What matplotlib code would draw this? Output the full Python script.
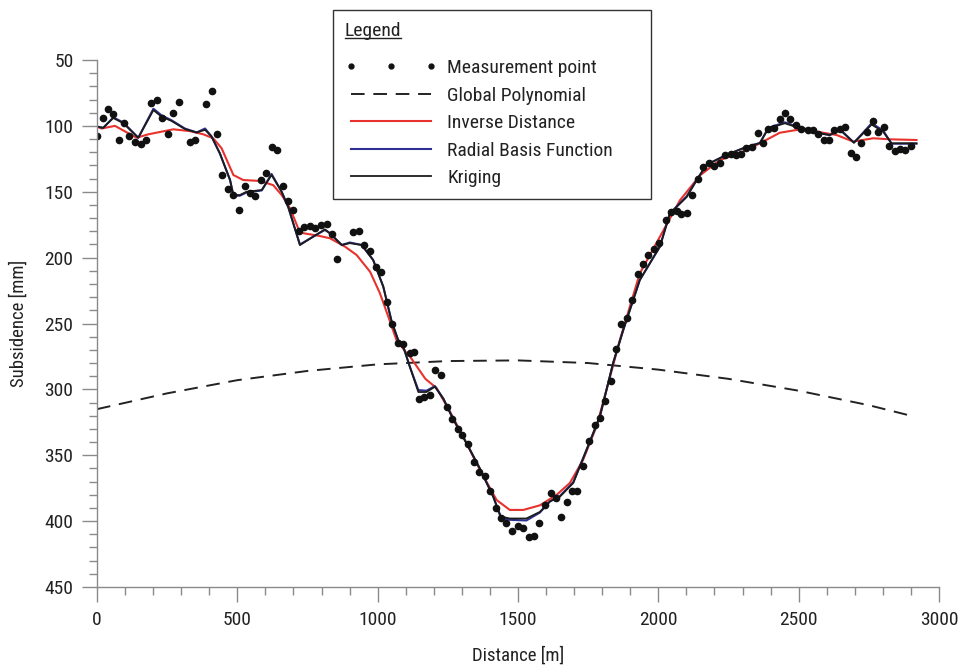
import matplotlib
matplotlib.use('Agg')
import matplotlib.pyplot as plt
from matplotlib.lines import Line2D
from matplotlib import font_manager
from matplotlib.ticker import MultipleLocator

# pick a narrow sans if present
names = {f.name for f in font_manager.fontManager.ttflist}
fam = 'DejaVu Sans'
for n in ['Liberation Sans Narrow', 'Roboto Condensed', 'Open Sans Condensed', 'Liberation Sans']:
    if n in names:
        fam = n
        break
plt.rcParams['font.family'] = [fam, 'DejaVu Sans']

# measurement points
pt_x = [0, 20, 38, 58, 78, 96, 115, 135, 156, 175, 192, 213, 233, 252, 272, 292, 331, 349,
        387, 409, 428, 446, 467, 486, 506, 526, 545, 564, 584, 602, 622, 642, 661, 680, 699,
        720, 738, 759, 777, 797, 818, 836, 856, 913, 933, 952, 973, 993, 1012, 1032, 1051,
        1074, 1091, 1115, 1129, 1148, 1166, 1186, 1205, 1225, 1246, 1265, 1285, 1302, 1322,
        1343, 1362, 1382, 1401, 1420, 1439, 1459, 1478, 1499, 1519, 1538, 1557, 1576, 1596,
        1616, 1635, 1653, 1673, 1692, 1711, 1731, 1753, 1773, 1792, 1811, 1830, 1849, 1867,
        1887, 1905, 1926, 1944, 1964, 1985, 2003, 2026, 2045, 2065, 2081, 2101, 2121, 2140,
        2160, 2179, 2199, 2219, 2237, 2258, 2276, 2296, 2314, 2334, 2355, 2374, 2392, 2413,
        2433, 2452, 2471, 2491, 2510, 2532, 2551, 2570, 2589, 2607, 2626, 2647, 2666, 2685,
        2704, 2724, 2743, 2764, 2782, 2803, 2823, 2842, 2861, 2880, 2900]
pt_y = [108, 94, 87, 91, 111, 98, 108, 112, 114, 111, 83, 80, 94, 106, 90.5, 82, 112.5, 111,
        83.5, 73.5, 106.5, 137, 148, 152.5, 163.5, 145.5, 151, 153.5, 141, 135.5, 116, 118,
        146, 157, 163.5, 180, 177, 176, 177.5, 175.5, 174.5, 182, 201, 180.5, 179.5, 190.5,
        195, 207, 211, 233.5, 250.5, 264.5, 265.5, 272.5, 272, 307, 306, 304, 285, 289, 313,
        322.5, 330, 334.5, 341.5, 355, 362.5, 366, 377.5, 390, 397.5, 401.5, 407.5, 403.5,
        405.5, 412, 411, 401.5, 388, 378.5, 382.5, 396.5, 385.5, 377, 377, 358.5, 339, 327,
        321.5, 309, 294, 269.5, 250, 245.5, 232, 212.5, 205, 198, 193.5, 189, 171.5, 165.5,
        164.5, 167, 166.5, 152.5, 140.5, 131.5, 128, 130.5, 128, 122, 121, 122, 121, 116.5,
        116, 105.5, 113, 102, 101.5, 94.5, 90.5, 94.5, 99.5, 102.5, 103, 103, 106.5, 111, 111,
        103, 102, 100.5, 120.5, 123.5, 113, 105, 96.5, 105, 101, 115, 119, 117.5, 118, 115.5]

# global polynomial
gp_x = [0, 250, 500, 750, 1000, 1250, 1500, 1750, 2000, 2250, 2500, 2750, 2900]
gp_y = [315, 303, 293, 286, 281, 278.5, 278, 280, 285, 292, 301, 312, 320]

# inverse distance
idw_x = [0, 16, 64, 141, 183, 272, 331, 379, 414, 444, 486, 521, 581, 628, 658, 688, 723,
         794, 830, 884, 925, 973, 1008, 1038, 1067, 1103, 1115, 1170, 1210, 1258, 1305,
         1364, 1424, 1471, 1519, 1578, 1638, 1685, 1732, 1780, 1828, 1863, 1934, 2006, 2077,
         2149, 2219, 2314, 2362, 2433, 2493, 2565, 2635, 2694, 2766, 2825, 2920]
idw_y = [100.6, 102, 100, 109, 106.4, 102.6, 104, 106.4, 109.4, 117, 137.3, 141.1, 141.8,
         145, 152.5, 162.6, 181, 183.6, 185.3, 191.7, 198, 210.7, 227, 244.8, 262.5, 272.5,
         275, 292, 299, 317, 336, 361, 384, 391.5, 391.5, 388, 380, 371, 353.5, 328, 290.5,
         262.5, 212, 184, 156.5, 137.5, 126, 118.5, 113.2, 105.2, 103.1, 104.4, 106.9, 111.9,
         109.4, 110.2, 110.7]

# kriging
kr_x = [0, 22, 58, 94, 147, 201, 230, 266, 313, 355, 385, 408, 438, 474, 486, 509, 533,
        587, 622, 658, 682, 723, 771, 812, 830, 872, 901, 943, 984, 1020, 1050, 1073, 1092,
        1115, 1145, 1174, 1204, 1234, 1270, 1317, 1364, 1412, 1439, 1471, 1530, 1578, 1614,
        1649, 1697, 1744, 1792, 1839, 1875, 1934, 2006, 2041, 2101, 2137, 2172, 2243, 2314,
        2362, 2392, 2451, 2493, 2540, 2576, 2611, 2647, 2697, 2724, 2760, 2801, 2831, 2920]
kr_y = [100.5, 101.5, 94, 98, 109, 88, 93, 96.3, 102.4, 105, 103, 108, 121, 141, 152.5,
        152.5, 150, 148.7, 137.3, 150, 162, 190.5, 184, 178.5, 181.5, 190.4, 189, 190.4,
        201.8, 222, 248.6, 262.5, 268, 283, 302, 302, 298, 307, 323, 341, 360, 381.5, 396.5,
        398, 398, 393, 385, 381.5, 371, 346, 320.5, 280, 255, 217, 191.5, 166.5, 154, 141,
        129.5, 122, 116, 113, 102, 98, 101, 103, 105.6, 107, 103, 112.7, 107, 99, 104.4,
        113.2, 113.2]

# radial basis function
rbf_x = kr_x
rbf_y = [100.5, 101.5, 93.5, 97.5, 109, 87, 92, 95.8, 102, 105, 102, 108, 121, 141, 153,
         153, 150.5, 149, 136.5, 150, 162, 190, 184, 179, 181.5, 190.4, 188.5, 190.4, 201.8,
         222, 248.6, 262.5, 268, 283, 300.5, 301, 297.5, 307, 323, 341, 360, 381.5, 397.5,
         399, 399.5, 393.5, 385, 381, 370.5, 346, 320.5, 280, 255, 217, 191.5, 166.5, 153.5,
         141, 129.5, 122, 116, 113, 101.5, 97.3, 100.5, 103, 105.6, 107, 102.5, 112.7, 106.5,
         98, 103.5, 113.5, 113.5]

fig = plt.figure(figsize=(9.71, 6.66), dpi=100)
ax = fig.add_axes([0.0999, 0.1186, 0.8671, 0.7913])

ax.plot(gp_x, gp_y, color='#222222', lw=1.4, dashes=(7, 4.5), label='Global Polynomial')
ax.plot(idw_x, idw_y, color='#e8322d', lw=1.5, label='Inverse Distance')
ax.plot(rbf_x, rbf_y, color='#2e3192', lw=1.5, label='Radial Basis Function')
ax.plot(kr_x, kr_y, color='#1c1c1c', lw=1.3, label='Kriging')
ax.plot(pt_x, pt_y, ls='none', marker='o', ms=4.5, color='#111111', label='Measurement point')

ax.set_xlim(0, 3000)
ax.set_ylim(450, 50)
ax.xaxis.set_major_locator(MultipleLocator(500))
ax.xaxis.set_minor_locator(MultipleLocator(100))
ax.yaxis.set_major_locator(MultipleLocator(50))
ax.yaxis.set_minor_locator(MultipleLocator(10))
for s in ['top', 'right']:
    ax.spines[s].set_visible(False)
for s in ['left', 'bottom']:
    ax.spines[s].set_color('#8a8a8a')
    ax.spines[s].set_linewidth(1.0)
ax.tick_params(which='major', length=11, width=1, color='#8a8a8a', labelsize=14,
               labelcolor='#222222', pad=6)
ax.tick_params(which='minor', length=5.5, width=1, color='#8a8a8a')
ax.set_xlabel('Distance [m]', fontsize=13.5, color='#222222', labelpad=13)
ax.set_ylabel('Subsidence [mm]', fontsize=13.5, color='#222222', labelpad=12)

h = ax.get_legend_handles_labels()[0]
order = [4, 0, 1, 2, 3]
handles = [h[i] for i in order]
labels = [h[i].get_label() for i in order]
leg = fig.legend(handles, labels, loc='upper left',
                 bbox_to_anchor=(333 / 971, 1 - 10 / 666, 318 / 971, 0),
                 bbox_transform=fig.transFigure, mode='expand', borderaxespad=0,
                 title='Legend', alignment='left',
                 fontsize=14, title_fontsize=14, frameon=True, fancybox=False,
                 edgecolor='#333333', framealpha=1, numpoints=3, handlelength=4.75,
                 handletextpad=0.53, labelspacing=0.49, borderpad=0.6)
leg._legend_box.sep = 14
leg.get_frame().set_linewidth(1.0)
leg.get_title().set_color('#222222')
for t in leg.get_texts():
    t.set_color('#222222')
leg.legend_handles[0].set_markersize(3.5)

# underline the legend title
fig.canvas.draw()
bb = leg.get_title().get_window_extent().transformed(fig.transFigure.inverted())
fig.add_artist(Line2D([bb.x0, bb.x1], [bb.y0 + 0.003, bb.y0 + 0.003], color='#222222',
                      lw=1.0, transform=fig.transFigure, zorder=10))

fig.savefig('out.png', dpi=100)
